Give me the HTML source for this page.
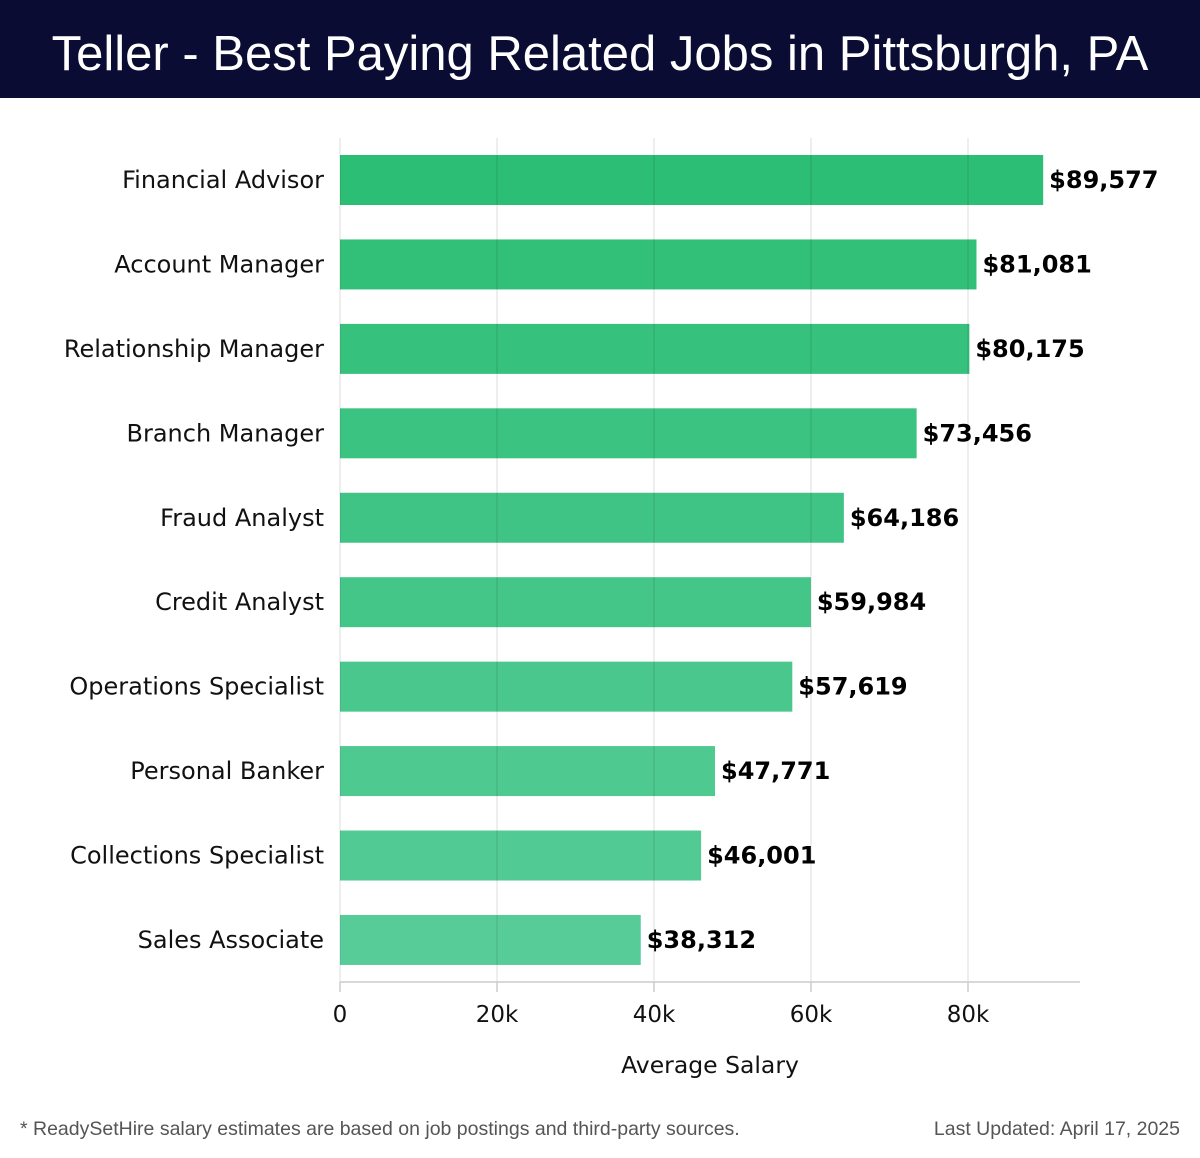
<!DOCTYPE html>
<html><head><meta charset="utf-8"><style>
body{margin:0;width:1200px;height:1158px;background:#fff;font-family:"DejaVu Sans","Liberation Sans",sans-serif;overflow:hidden;position:relative}
#hdr{position:absolute;left:0;top:0;width:1200px;height:98px;background:#0a0c33;color:#fff;font-family:"Liberation Sans",sans-serif;font-size:49px;text-align:center;line-height:108px;box-sizing:border-box}
.foot{position:absolute;top:1118px;font-size:19.5px;color:#555;font-family:"Liberation Sans",sans-serif}
</style></head><body>
<div id="hdr">Teller - Best Paying Related Jobs in Pittsburgh, PA</div>
<svg id="chart" width="1200" height="1158" style="position:absolute;left:0;top:0"></svg>
<div class="foot" style="left:20px">* ReadySetHire salary estimates are based on job postings and third-party sources.</div>
<div class="foot" style="right:20px">Last Updated: April 17, 2025</div>
<script>
const categories=["Financial Advisor","Account Manager","Relationship Manager","Branch Manager","Fraud Analyst","Credit Analyst","Operations Specialist","Personal Banker","Collections Specialist","Sales Associate"];
const values=[89577,81081,80175,73456,64186,59984,57619,47771,46001,38312];
const labels=["$89,577","$81,081","$80,175","$73,456","$64,186","$59,984","$57,619","$47,771","$46,001","$38,312"];
const ticks=[0,20000,40000,60000,80000];
const tickLabels=["0","20k","40k","60k","80k"];
const svg=document.getElementById('chart');
const NS='http://www.w3.org/2000/svg';
const x=v=>340+v*628/80000;
const y=i=>155+i*84.44;
function mk(t,a){const e=document.createElementNS(NS,t);for(const k in a)e.setAttribute(k,a[k]);svg.appendChild(e);return e;}
function lerp(a,b,t){return Math.round(a+(b-a)*t);}
categories.forEach((c,i)=>{
  const t=i/(categories.length-1);
  const col=`rgb(${lerp(45,87,t)},${lerp(190,204,t)},${lerp(117,152,t)})`;
  const r=mk('rect',{x:x(0),y:y(i),width:x(values[i])-x(0),height:50,fill:col});
  
  
  const l=mk('text',{x:324,y:y(i)+33,'text-anchor':'end','font-size':24,fill:'#111'});
  l.textContent=c;
  
  
  const v=mk('text',{x:x(values[i])+6,y:y(i)+33,'font-size':24,'font-weight':'bold',fill:'#000'});
  v.textContent=labels[i];
  
  
});
ticks.forEach((tv,i)=>{
  const g=mk('line',{x1:x(tv),x2:x(tv),y1:138,y2:982,stroke:'#000','stroke-opacity':0.09,'stroke-width':1.5});
  
  
  const tk=mk('line',{x1:x(tv),x2:x(tv),y1:982,y2:992,stroke:'#ccc','stroke-width':1.5});
  
  
  const tl=mk('text',{x:x(tv),y:1022,'text-anchor':'middle','font-size':23,fill:'#111'});
  tl.textContent=tickLabels[i];
  
  
});
const ax=mk('line',{x1:340,x2:1080,y1:982,y2:982,stroke:'#ccc','stroke-width':1.5});


const at=mk('text',{x:710,y:1073,'text-anchor':'middle','font-size':23.5,fill:'#111'});
at.textContent='Average Salary';


</script>
</body></html>
